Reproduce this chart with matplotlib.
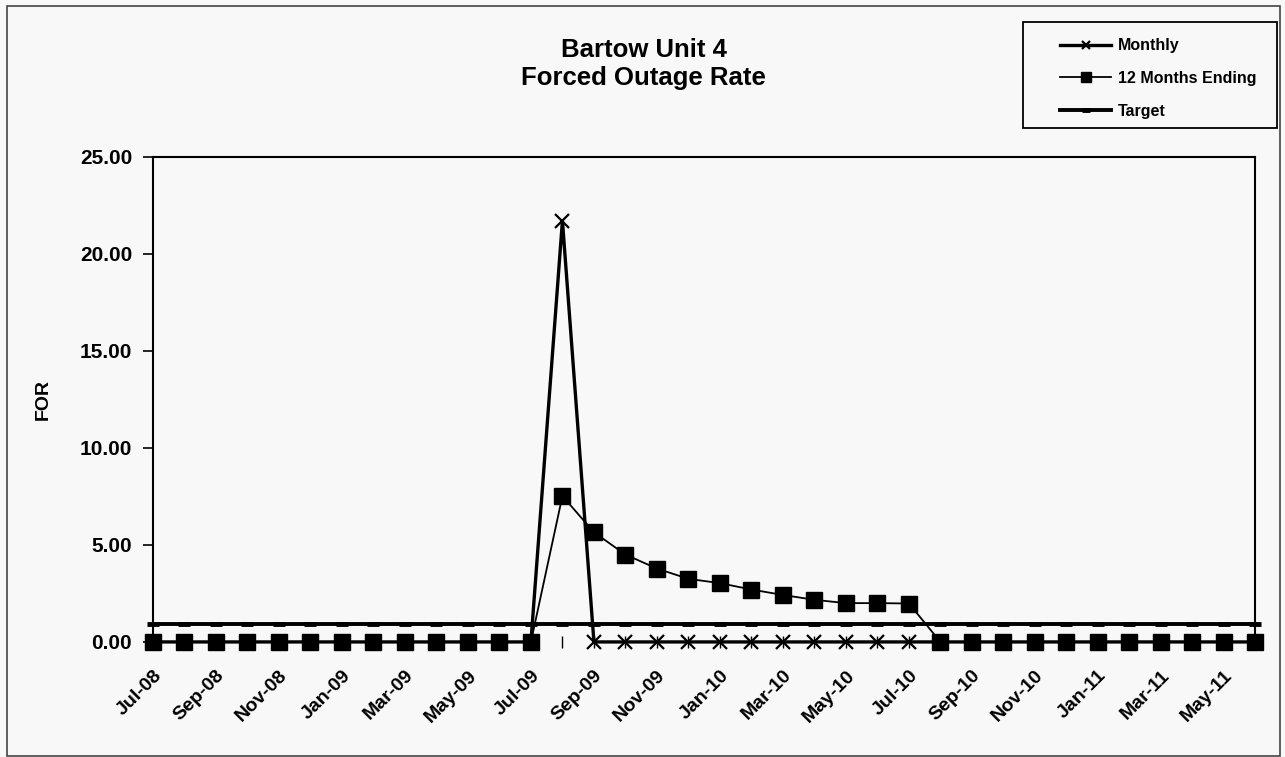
import matplotlib.pyplot as plt
from matplotlib.patches import Rectangle

plt.rcParams['font.family'] = ['Liberation Sans', 'DejaVu Sans']
plt.rcParams['font.weight'] = 'bold'

months = ["Jul-08", "Aug-08", "Sep-08", "Oct-08", "Nov-08", "Dec-08",
          "Jan-09", "Feb-09", "Mar-09", "Apr-09", "May-09", "Jun-09",
          "Jul-09", "Aug-09", "Sep-09", "Oct-09", "Nov-09", "Dec-09",
          "Jan-10", "Feb-10", "Mar-10", "Apr-10", "May-10", "Jun-10",
          "Jul-10", "Aug-10", "Sep-10", "Oct-10", "Nov-10", "Dec-10",
          "Jan-11", "Feb-11", "Mar-11", "Apr-11", "May-11", "Jun-11"]

monthly = [0, 0, 0, 0, 0, 0, 0, 0, 0, 0, 0, 0,
           0, 21.7, 0, 0, 0, 0, 0, 0, 0, 0, 0, 0,
           0, 0, 0, 0, 0, 0, 0, 0, 0, 0, 0, 0]

twelveMonths = [0, 0, 0, 0, 0, 0, 0, 0, 0, 0, 0, 0,
                0, 7.52, 5.65, 4.50, 3.78, 3.25, 3.03, 2.70, 2.42, 2.17, 2.00, 2.00,
                1.98, 0, 0, 0, 0, 0, 0, 0, 0, 0, 0, 0]

target = [0.9] * len(months)

x = list(range(len(months)))

fig = plt.figure(figsize=(12.85, 7.57), dpi=100, facecolor="#f8f8f8")
ax = fig.add_axes([0.119, 0.152, 0.858, 0.641])
ax.set_facecolor("#f8f8f8")

ax.plot(x, target, color="black", linewidth=2.8, marker="_", markersize=9,
        markeredgewidth=3.5, label="Target", zorder=2, clip_on=False)
ax.plot(x, monthly, color="black", linewidth=2.4, marker="x", markersize=10,
        markeredgewidth=1.6, label="Monthly", zorder=3, clip_on=False)
ax.plot(x, twelveMonths, color="black", linewidth=1.3, marker="s", markersize=11,
        label="12 Months Ending", zorder=4, clip_on=False)

ax.set_xlim(0, len(months) - 1)
ax.set_ylim(0, 25)
ax.set_yticks([0, 5, 10, 15, 20, 25])
ax.set_yticklabels(["%.2f" % v for v in [0, 5, 10, 15, 20, 25]])
ax.set_xticks(x)
ax.set_xticklabels([m if i % 2 == 0 else "" for i, m in enumerate(months)],
                   rotation=45, ha="right", rotation_mode="anchor")
ax.tick_params(axis="x", direction="inout", length=8, width=1, labelsize=14, pad=14)
ax.tick_params(axis="y", direction="out", length=7, width=1.2, labelsize=15, pad=8)
for s in ax.spines.values():
    s.set_linewidth(1.5)
ax.spines["bottom"].set_visible(False)
ax.set_ylabel("FOR", fontsize=14, fontweight="bold", labelpad=20)

fig.text(0.501, 0.915, "Bartow Unit 4\nForced Outage Rate", ha="center", va="center",
         fontsize=18.5, fontweight="bold", linespacing=1.2)

handles, labels = ax.get_legend_handles_labels()
order = [1, 2, 0]
leg = fig.legend([handles[i] for i in order], [labels[i] for i in order],
                 loc="upper left", bbox_to_anchor=(1046 / 1285, 1 - 24 / 757),
                 frameon=False, fontsize=11.5, handlelength=3.2, labelspacing=1.1,
                 markerscale=0.6, handletextpad=0.4)

# legend box and outer chart border
fig.patches.append(Rectangle((1023 / 1285, 1 - 128 / 757), 254 / 1285, 106 / 757,
                             transform=fig.transFigure, fill=False,
                             edgecolor="black", linewidth=1.3))
fig.patches.append(Rectangle((7 / 1285, 1 / 757), 1273 / 1285, 750 / 757,
                             transform=fig.transFigure, fill=False,
                             edgecolor="#444444", linewidth=1.2))

plt.savefig("out.png", dpi=100, facecolor=fig.get_facecolor())
